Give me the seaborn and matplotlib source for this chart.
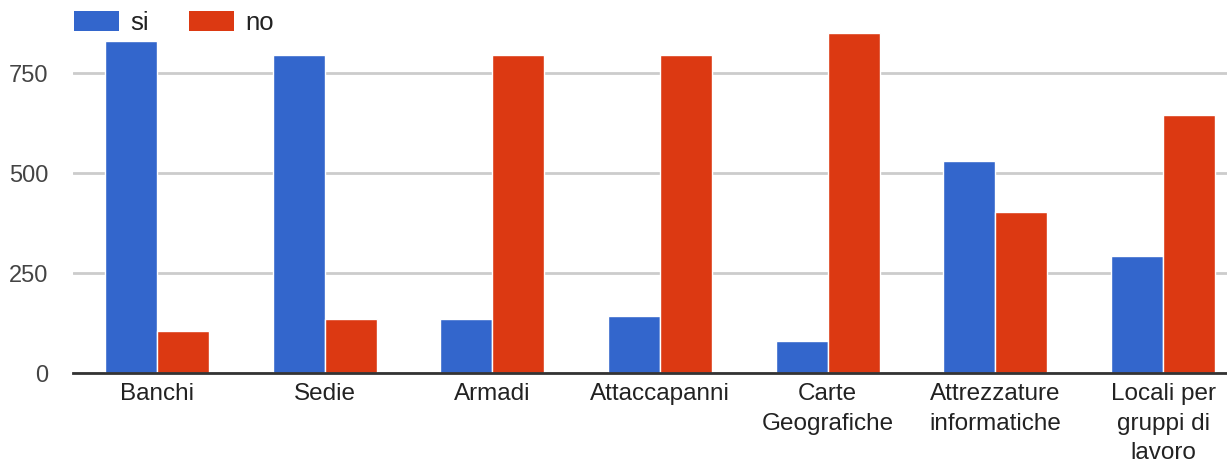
import matplotlib
matplotlib.use("Agg")
import matplotlib.pyplot as plt
import seaborn as sns
import pandas as pd
from matplotlib.patches import Patch

categories = ["Banchi", "Sedie", "Armadi", "Attaccapanni", "Carte\nGeografiche",
              "Attrezzature\ninformatiche", "Locali per\ngruppi di\nlavoro"]
si_values = [831, 797, 137, 143, 82, 531, 293]
no_values = [107, 137, 797, 797, 852, 404, 647]
series_names = ["si", "no"]
yticks = [0, 250, 500, 750]
colors = ["#3366CC", "#DC3912"]

df = pd.DataFrame({
    "categoria": categories * 2,
    "valore": si_values + no_values,
    "serie": [series_names[0]] * len(categories) + [series_names[1]] * len(categories),
})

sns.set_theme(style="white")
plt.rcParams["font.family"] = ["Liberation Sans", "DejaVu Sans"]

W, H = 1227, 466
fig = plt.figure(figsize=(W / 100, H / 100), dpi=100)
left_px, right_px, bottom_px, top_px = 73, 73 + 7 * 167.7, 373.3, 25.3
ax = fig.add_axes([left_px / W, 1 - bottom_px / H, (right_px - left_px) / W,
                   (bottom_px - top_px) / H])

sns.barplot(data=df, x="categoria", y="valore", hue="serie", palette=colors,
            width=0.62, ax=ax, edgecolor="white", linewidth=1, legend=False,
            saturation=1)

ax.set_ylim(0, 870)
ax.set_xlim(-0.5, len(categories) - 0.5)
ax.set_yticks(yticks)
ax.set_yticklabels([str(t) for t in yticks])
ax.yaxis.grid(True, color="#CCCCCC", linewidth=2)
ax.set_axisbelow(True)
for s in ["top", "right", "left"]:
    ax.spines[s].set_visible(False)
ax.spines["bottom"].set_color("#333333")
ax.spines["bottom"].set_linewidth(2)
ax.set_xlabel("")
ax.set_ylabel("")
ax.tick_params(axis="y", length=0, pad=17.5, labelsize=17, labelcolor="#444444")
ax.tick_params(axis="x", length=0, pad=7, labelsize=17.5, labelcolor="#222222")
for lbl in ax.get_xticklabels():
    lbl.set_linespacing(1.45)

handles = [Patch(facecolor=c, edgecolor="none") for c in colors]
fig.legend(handles, series_names, loc="upper left",
           bbox_to_anchor=(74 / W, 1 - 11 / H), ncol=2, frameon=False,
           fontsize=18.5, handlelength=1.75, handleheight=0.85, handletextpad=0.45,
           columnspacing=1.55, borderpad=0, borderaxespad=0, labelcolor="#222222")

fig.savefig("out.png", dpi=100, facecolor="white")
